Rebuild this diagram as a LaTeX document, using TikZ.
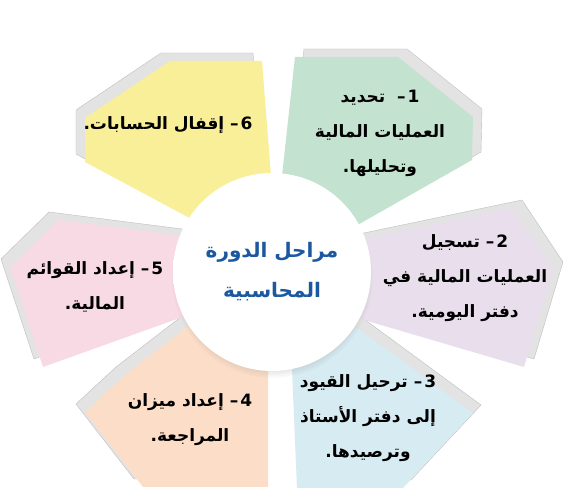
\documentclass[tikz,border=0pt]{standalone}
\usepackage{fontspec}
\usetikzlibrary{shadows}
\newfontfamily\arabicfont[Script=Arabic]{DejaVu Sans}
\TeXXeTstate=1

\definecolor{titleblue}{RGB}{28,88,160}
\definecolor{petalyellow}{RGB}{249,239,153}
\definecolor{petalgreen}{RGB}{196,226,208}
\definecolor{petalpurple}{RGB}{232,222,236}
\definecolor{petalblue}{RGB}{214,235,242}
\definecolor{petalpeach}{RGB}{252,222,200}
\definecolor{petalpink}{RGB}{248,218,228}

\pgfdeclareradialshading{discshade}{\pgfpoint{0bp}{0bp}}{color(0bp)=(white); color(36bp)=(white); color(50bp)=(gray!20)}

\newcommand{\rl}[1]{\beginR #1\endR}
\newcommand{\stepno}[1]{#1\kern2pt–}

% 颜色/阴影偏移/轮廓
\newcommand{\petallist}{%
  petalyellow/-9/{(170,61) -- (262,61) -- (276,240) -- (240,245) -- (85,162) -- (85,118)},%
  petalgreen/9/{(295,57) -- (398,57) -- (473,117) -- (472,160) -- (310,252) -- (275,240)},%
  petalpurple/10/{(330,246) -- (512,208) -- (553,270) -- (524,367) -- (330,310)},%
  petalblue/8/{(290,320) -- (330,308) -- (473,413) -- (403,488) -- (297,488)},%
  petalpeach/-9/{(85,412) -- (125,375) -- (230,294) -- (268,330) -- (268,487) -- (143,487)},%
  petalpink/-9/{(58,220) -- (230,242) -- (230,300) -- (43,367) -- (10,267)}%
}

\begin{document}
\begin{tikzpicture}[
    x=1pt, y=-1pt,
    sheet/.style={fill=gray!22, draw=gray!50, line width=0.4pt}, % 背后的灰色纸片
    petaltext/.style={font=\arabicfont\bfseries\fontsize{17}{35}\selectfont, align=center, text=black},
    titletext/.style={font=\arabicfont\bfseries\fontsize{20}{40}\selectfont, align=center, text=titleblue},
    hub/.style={circle, inner sep=0pt, minimum size=198pt, shading=discshade,
        circular drop shadow={shadow xshift=0pt, shadow yshift=-5pt, shadow scale=1.02, opacity=0.35}}
]
    \useasboundingbox[fill=white] (0,0) rectangle (587,502);

    % 1. 灰色底片
    \foreach \col/\dx/\pts in \petallist {
        \filldraw[sheet, xshift=\dx pt, yshift=8pt] \pts -- cycle;
    }
    % 2. 彩色花瓣
    \foreach \col/\dx/\pts in \petallist {
        \fill[\col] \pts -- cycle;
    }

    % 3. 中心圆
    \node[hub, titletext] (hub) at (272,272) {\rl{مراحل الدورة}\\\rl{المحاسبية}};

    % 4. 各阶段文字
    \node[petaltext] (step1) at (380,133) {\rl{\stepno{1}\ \ تحديد}\\\rl{العمليات المالية}\\\rl{وتحليلها\kern0pt.}};
    \node[petaltext] (step2) at (465,278) {\rl{\stepno{2} تسجيل}\\\rl{العمليات المالية في}\\\rl{دفتر اليومية\kern0pt.}};
    \node[petaltext] (step3) at (368,418) {\rl{\stepno{3} ترحيل القيود}\\\rl{إلى دفتر الأستاذ}\\\rl{وترصيدها\kern0pt.}};
    \node[petaltext] (step4) at (190,420) {\rl{\stepno{4} إعداد ميزان}\\\rl{المراجعة\kern0pt.}};
    \node[petaltext] (step5) at (95,287) {\rl{\stepno{5} إعداد القوائم}\\\rl{المالية\kern0pt.}};
    \node[petaltext] (step6) at (168,125) {\rl{\stepno{6} إقفال الحسابات\kern0pt.}};
\end{tikzpicture}
\end{document}
